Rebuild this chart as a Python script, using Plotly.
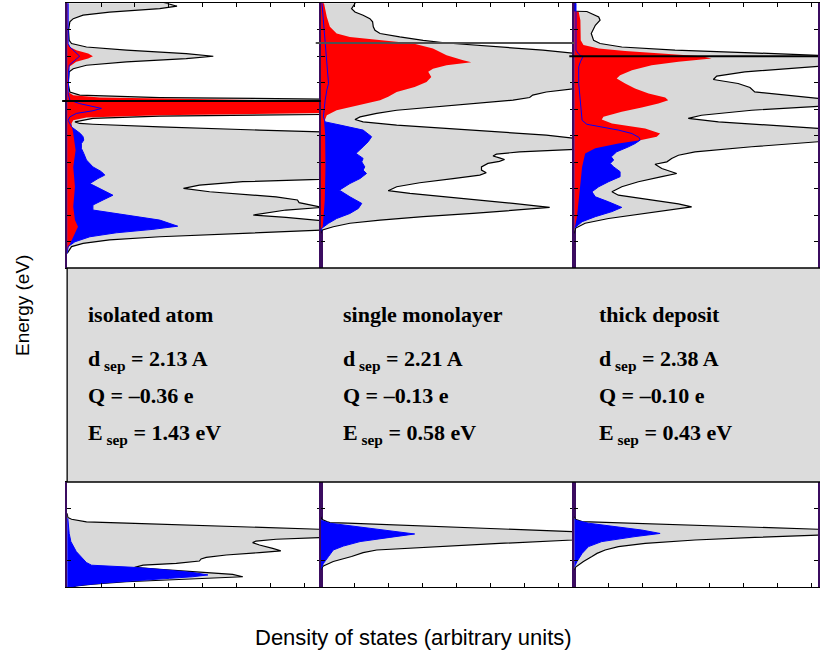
import plotly.graph_objects as go

# ---------------- text / labels ----------------
systems = ["isolated atom", "single monolayer", "thick deposit"]
d_sep = ["2.13 A", "2.21 A", "2.38 A"]
charge = ["–0.36 e", "–0.13 e", "–0.10 e"]
e_sep = ["1.43 eV", "0.58 eV", "0.43 eV"]
fermi_level = [-3.69, -1.50, -2.00]          # eV, one per column
fermi_color = ["black", "#505050", "black"]

top_ticks_E = [-1, -2, -3, -4, -5, -6, -7, -8, -9]
bot_ticks_E = [-17, -19]
dos_ticks = [1, 2, 3, 4, 5, 6, 7]

# ---------------- DOS curves: (energy eV, DOS arb. units) ----------------
# isolated atom, valence window
atom_tot = [(0.11, 2.63), (-0.11, 3.24), (-0.20, 2.73), (-0.33, 1.25), (-0.45, 0.47), (-0.58, 0.18),
            (-0.70, 0.08), (-1.02, 0.04), (-1.40, 0.06), (-1.52, 0.13), (-1.65, 0.57), (-1.77, 1.75),
            (-1.90, 3.51), (-2.00, 4.31), (-2.09, 3.51), (-2.21, 1.75), (-2.34, 0.57), (-2.47, 0.18),
            (-2.59, 0.06), (-3.03, 0.03), (-3.35, 0.08), (-3.47, 0.37), (-3.56, 2.73), (-3.62, 7.63),
            (-3.79, 12.0), (-3.91, 14.0), (-4.10, 11.0), (-4.20, 7.63), (-4.26, 2.73), (-4.35, 0.76),
            (-4.48, 0.23), (-4.54, 0.37), (-4.57, 0.76), (-4.67, 2.73), (-4.79, 5.67), (-4.86, 7.53),
            (-5.04, 9.0), (-6.18, 9.5), (-6.55, 8.5), (-6.65, 7.43), (-6.74, 5.18), (-6.87, 3.90),
            (-6.99, 3.43), (-7.12, 4.20), (-7.31, 6.16), (-7.43, 6.79), (-7.53, 6.84), (-7.62, 7.24),
            (-7.71, 7.53), (-7.81, 6.45), (-8.00, 5.49), (-8.09, 6.45), (-8.21, 7.53), (-8.38, 9.0),
            (-8.57, 7.53), (-8.69, 5.18), (-8.82, 2.73), (-8.94, 1.25), (-9.07, 0.47), (-9.19, 0.13),
            (-9.45, 0.0)]
atom_red = [(0.11, 0.01), (-1.52, 0.02), (-1.65, 0.08), (-1.77, 0.27), (-1.90, 0.62), (-2.00, 0.76),
            (-2.09, 0.62), (-2.21, 0.27), (-2.40, 0.06), (-2.59, 0.02), (-3.35, 0.03), (-3.47, 0.18),
            (-3.56, 0.96), (-3.62, 4.69), (-3.69, 7.63), (-3.91, 13.5), (-4.14, 7.63), (-4.23, 2.73),
            (-4.31, 0.57), (-4.42, 0.18), (-4.54, 0.13), (-4.92, 0.18), (-5.55, 0.25), (-6.18, 0.18),
            (-6.93, 0.23), (-7.69, 0.18), (-8.19, 0.23), (-8.44, 0.32), (-8.69, 0.23), (-9.01, 0.13),
            (-9.26, 0.02), (-9.45, 0.0)]
atom_blue = [(0.11, 0.03), (-1.52, 0.03), (-1.65, 0.08), (-1.84, 0.23), (-2.00, 0.37), (-2.15, 0.23),
             (-2.34, 0.06), (-3.41, 0.03), (-3.66, 0.08), (-3.79, 0.37), (-3.89, 0.76), (-3.97, 1.01),
             (-4.06, 0.76), (-4.16, 0.27), (-4.29, 0.08), (-4.42, 0.03), (-4.67, 0.13), (-4.79, 0.27),
             (-4.92, 0.39), (-5.04, 0.47), (-5.17, 0.49), (-5.30, 0.42), (-5.48, 0.42), (-5.67, 0.49),
             (-5.92, 0.57), (-6.18, 0.76), (-6.36, 1.01), (-6.49, 1.11), (-6.62, 0.91), (-6.81, 0.67),
             (-6.99, 0.96), (-7.25, 1.35), (-7.43, 1.06), (-7.62, 0.76), (-7.81, 0.76), (-8.00, 1.75),
             (-8.19, 2.73), (-8.42, 3.26), (-8.54, 2.53), (-8.67, 1.45), (-8.82, 0.67), (-9.01, 0.23),
             (-9.19, 0.03), (-9.45, 0.0)]

# single monolayer, valence window
mono_tot = [(0.11, 1.04), (-0.01, 1.01), (-0.20, 0.91), (-0.33, 1.01), (-0.45, 1.25), (-0.58, 1.45),
            (-0.70, 1.53), (-0.89, 1.55), (-1.02, 1.60), (-1.14, 1.75), (-1.27, 2.33), (-1.40, 3.02),
            (-1.50, 3.71), (-1.65, 5.37), (-1.77, 6.55), (-1.90, 7.53), (-2.40, 9.5), (-3.22, 7.53),
            (-3.35, 6.65), (-3.47, 6.25), (-3.56, 6.16), (-3.66, 5.67), (-3.79, 4.49), (-3.91, 3.22),
            (-4.04, 2.24), (-4.16, 1.65), (-4.29, 1.16), (-4.39, 1.01), (-4.48, 1.25), (-4.60, 2.24),
            (-4.73, 3.71), (-4.86, 5.27), (-4.98, 6.65), (-5.11, 7.53), (-5.36, 9.0), (-5.52, 7.53),
            (-5.61, 5.86), (-5.70, 5.18), (-5.77, 5.08), (-5.84, 5.27), (-5.90, 5.42), (-5.97, 5.27),
            (-6.05, 4.93), (-6.18, 4.74), (-6.30, 4.74), (-6.40, 4.88), (-6.49, 4.69), (-6.62, 3.90),
            (-6.78, 2.92), (-6.93, 2.24), (-7.08, 1.99), (-7.18, 2.63), (-7.31, 3.71), (-7.43, 4.69),
            (-7.56, 5.67), (-7.71, 6.75), (-7.81, 5.86), (-7.94, 4.49), (-8.06, 3.02), (-8.19, 1.75),
            (-8.31, 0.86), (-8.44, 0.37), (-8.57, 0.03), (-8.69, 0.0)]
mono_red = [(0.11, 0.08), (-0.52, 0.18), (-0.89, 0.27), (-1.14, 0.47), (-1.27, 0.86), (-1.40, 1.75),
            (-1.52, 2.73), (-1.71, 3.31), (-1.96, 3.71), (-2.15, 4.20), (-2.23, 4.44), (-2.34, 3.71),
            (-2.47, 3.31), (-2.59, 3.17), (-2.78, 3.26), (-2.97, 3.12), (-3.16, 2.77), (-3.35, 2.24),
            (-3.53, 1.99), (-3.66, 1.75), (-3.85, 1.06), (-4.04, 0.47), (-4.23, 0.18), (-4.48, 0.10),
            (-4.92, 0.13), (-6.18, 0.14), (-7.43, 0.12), (-8.44, 0.06), (-8.59, 0.0)]
mono_blue = [(0.11, 0.03), (-1.14, 0.11), (-1.77, 0.16), (-2.40, 0.18), (-3.03, 0.23), (-3.28, 0.18),
             (-3.66, 0.13), (-4.29, 0.08), (-4.48, 0.13), (-4.60, 0.57), (-4.79, 1.25), (-5.04, 1.50),
             (-5.23, 1.40), (-5.42, 1.25), (-5.67, 1.04), (-5.86, 1.25), (-5.99, 1.21), (-6.18, 1.30),
             (-6.30, 1.25), (-6.43, 1.35), (-6.62, 1.16), (-6.81, 0.86), (-7.06, 0.55), (-7.31, 0.86),
             (-7.56, 1.21), (-7.75, 1.11), (-7.94, 0.86), (-8.13, 0.47), (-8.31, 0.23), (-8.50, 0.03),
             (-8.63, 0.0)]

# thick deposit, valence window
bulk_tot = [(-0.30, 0.0), (-0.31, 0.37), (-0.52, 0.72), (-0.64, 0.76), (-0.83, 0.62), (-1.14, 0.50),
            (-1.40, 0.57), (-1.52, 0.76), (-1.65, 1.40), (-1.77, 2.97), (-1.87, 5.23), (-1.94, 7.19),
            (-2.09, 9.6), (-2.34, 7.68), (-2.47, 6.21), (-2.59, 5.03), (-2.75, 4.20), (-2.88, 4.10),
            (-3.03, 4.83), (-3.18, 5.18), (-3.35, 5.32), (-3.47, 6.21), (-3.60, 7.28), (-3.72, 8.2),
            (-3.89, 7.19), (-4.04, 5.23), (-4.23, 3.75), (-4.35, 3.36), (-4.48, 4.25), (-4.60, 5.91),
            (-4.73, 7.28), (-4.98, 8.66), (-5.23, 7.19), (-5.42, 5.23), (-5.61, 3.56), (-5.74, 3.07),
            (-5.86, 2.87), (-5.99, 2.73), (-6.08, 2.38), (-6.24, 2.58), (-6.43, 3.02), (-6.55, 2.58),
            (-6.74, 1.89), (-6.93, 1.40), (-7.12, 1.11), (-7.25, 1.30), (-7.43, 2.28), (-7.58, 3.07),
            (-7.69, 3.46), (-7.81, 2.77), (-7.94, 2.09), (-8.13, 1.01), (-8.31, 0.32), (-8.50, 0.03),
            (-8.69, 0.0)]
bulk_red = [(-0.30, 0.0), (-0.33, 0.13), (-0.64, 0.18), (-1.40, 0.19), (-1.58, 0.27), (-1.71, 0.72),
            (-1.80, 1.50), (-1.90, 2.77), (-2.00, 3.75), (-2.09, 4.05), (-2.21, 3.07), (-2.34, 2.28),
            (-2.53, 1.70), (-2.72, 1.35), (-2.84, 1.25), (-3.03, 1.50), (-3.22, 1.79), (-3.41, 2.19),
            (-3.56, 2.68), (-3.66, 2.77), (-3.79, 2.48), (-3.94, 1.99), (-4.10, 1.40), (-4.29, 0.86),
            (-4.39, 0.81), (-4.54, 1.11), (-4.73, 2.09), (-4.92, 2.53), (-5.04, 2.43), (-5.17, 1.94),
            (-5.30, 1.30), (-5.48, 0.62), (-5.67, 0.32), (-6.18, 0.23), (-6.81, 0.18), (-7.43, 0.13),
            (-8.06, 0.08), (-8.57, 0.0)]
bulk_blue = [(0.11, 0.05), (-0.39, 0.05), (-1.77, 0.05), (-1.92, 0.13), (-2.03, 0.25), (-2.21, 0.18),
             (-2.40, 0.13), (-3.03, 0.13), (-3.66, 0.18), (-4.04, 0.21), (-4.42, 0.23), (-4.57, 0.37),
             (-4.67, 0.81), (-4.79, 1.30), (-4.92, 1.70), (-5.07, 1.91), (-5.17, 1.94), (-5.30, 1.79),
             (-5.42, 1.60), (-5.61, 1.25), (-5.80, 1.09), (-5.92, 1.16), (-6.05, 1.06), (-6.18, 1.16),
             (-6.36, 1.35), (-6.55, 1.35), (-6.74, 1.01), (-6.93, 0.72), (-7.12, 0.52), (-7.31, 0.62),
             (-7.50, 1.01), (-7.71, 1.40), (-7.87, 1.11), (-8.06, 0.62), (-8.25, 0.23), (-8.50, 0.0)]

# semicore window
atom_tot_low = [(-17.19, 0.0), (-17.35, 0.02), (-17.42, 0.13), (-17.52, 0.57), (-17.57, 1.75),
                (-17.65, 3.51), (-17.73, 5.27), (-17.80, 7.43), (-17.96, 9.6), (-18.12, 7.43),
                (-18.18, 6.16), (-18.25, 5.57), (-18.31, 5.47), (-18.40, 5.67), (-18.53, 6.06),
                (-18.62, 6.30), (-18.69, 5.67), (-18.78, 4.69), (-18.87, 4.10), (-18.93, 3.95),
                (-19.01, 3.90), (-19.10, 3.22), (-19.17, 2.24), (-19.25, 1.99), (-19.33, 2.73),
                (-19.42, 3.90), (-19.52, 4.88), (-19.61, 5.18), (-19.67, 4.20), (-19.73, 2.92),
                (-19.80, 1.75), (-19.89, 0.76), (-19.96, 0.27), (-20.05, 0.03)]
atom_blue_low = [(-17.38, 0.02), (-17.57, 0.03), (-17.96, 0.06), (-18.27, 0.11), (-18.46, 0.18),
                 (-18.65, 0.27), (-18.82, 0.39), (-18.95, 0.49), (-19.07, 0.57), (-19.17, 0.72),
                 (-19.25, 1.94), (-19.35, 2.92), (-19.45, 3.71), (-19.54, 4.15), (-19.61, 3.70),
                 (-19.67, 3.02), (-19.73, 2.24), (-19.83, 1.25), (-19.92, 0.47), (-20.01, 0.0)]
mono_tot_low = [(-17.32, 0.0), (-17.42, 0.03), (-17.51, 0.18), (-17.55, 0.27), (-17.57, 0.80),
                (-17.64, 2.14), (-17.70, 3.46), (-17.77, 4.78), (-17.83, 6.11), (-17.89, 7.43),
                (-18.04, 8.8), (-18.21, 7.43), (-18.34, 5.27), (-18.46, 3.31), (-18.59, 1.65),
                (-18.69, 1.25), (-18.84, 0.91), (-19.03, 0.37), (-19.20, 0.08), (-19.33, 0.0)]
mono_blue_low = [(-17.42, 0.0), (-17.47, 0.03), (-17.57, 0.27), (-17.70, 1.06), (-17.83, 1.94),
                 (-17.98, 2.77), (-18.11, 2.04), (-18.27, 1.16), (-18.44, 0.67), (-18.59, 0.37),
                 (-18.84, 0.23), (-19.10, 0.08), (-19.33, 0.0)]
bulk_tot_low = [(-17.32, 0.0), (-17.42, 0.03), (-17.51, 0.23), (-17.57, 1.75), (-17.64, 3.26),
                (-17.70, 4.74), (-17.77, 6.31), (-17.80, 7.19), (-17.91, 8.7), (-18.02, 7.19),
                (-18.11, 5.32), (-18.21, 3.56), (-18.34, 2.09), (-18.46, 1.30), (-18.59, 0.91),
                (-18.72, 0.67), (-18.84, 0.52), (-19.03, 0.27), (-19.25, 0.03), (-19.35, 0.0)]
bulk_blue_low = [(-17.42, 0.0), (-17.47, 0.08), (-17.57, 0.42), (-17.70, 1.30), (-17.83, 1.99),
                 (-17.96, 2.53), (-18.08, 1.79), (-18.27, 0.81), (-18.46, 0.42), (-18.72, 0.23),
                 (-19.03, 0.08), (-19.25, 0.0)]

top_curves = [(atom_tot, atom_red, atom_blue), (mono_tot, mono_red, mono_blue), (bulk_tot, bulk_red, bulk_blue)]
low_curves = [(atom_tot_low, None, atom_blue_low), (mono_tot_low, None, mono_blue_low),
              (bulk_tot_low, None, bulk_blue_low)]

# ---------------- layout geometry ----------------
W, H = 820, 657
left_px = [67.3, 321.5, 575.7]
right_px = [321.5, 575.7, 820.0]
px_per_dos = 34.0
top_dom = [1 - 268 / H, 1 - 3.3 / H]
bot_dom = [1 - 587 / H, 1 - 482 / H]
top_range = [-10, 0]
bot_range = [-20, -16]
AXIS_PURPLE = "#3b0c60"
GRAY = "#d9d9d9"

fig = go.Figure()


def ax_name(i, kind):
    return kind if i == 1 else f"{kind}{i}"


def add_curves(i, tot, red, blue):
    xa, ya = ax_name(i, "x"), ax_name(i, "y")
    E, D = zip(*tot)
    fig.add_trace(go.Scatter(x=D, y=E, xaxis=xa, yaxis=ya, mode="lines", fill="tozerox",
                             fillcolor=GRAY, line=dict(color="black", width=1.2),
                             hoverinfo="skip", showlegend=False))
    if blue:
        Eb, Db = zip(*blue)
        fig.add_trace(go.Scatter(x=Db, y=Eb, xaxis=xa, yaxis=ya, mode="lines", fill="tozerox",
                                 fillcolor="#0000ff", line=dict(color="#0000ff", width=0),
                                 hoverinfo="skip", showlegend=False))
    if red:
        Er, Dr = zip(*red)
        fig.add_trace(go.Scatter(x=Dr, y=Er, xaxis=xa, yaxis=ya, mode="lines", fill="tozerox",
                                 fillcolor="#ff0000", line=dict(color="#ff0000", width=0),
                                 hoverinfo="skip", showlegend=False))
    if blue:
        fig.add_trace(go.Scatter(x=Db, y=Eb, xaxis=xa, yaxis=ya, mode="lines",
                                 line=dict(color="#0000ff", width=1),
                                 hoverinfo="skip", showlegend=False))


layout_axes = {}
for c in range(3):
    dom = [left_px[c] / W, right_px[c] / W]
    xr = [0, (right_px[c] - left_px[c]) / px_per_dos]
    for row, (ydom, yr, yt, side, curves) in enumerate(
            [(top_dom, top_range, top_ticks_E, "top", top_curves),
             (bot_dom, bot_range, bot_ticks_E, "bottom", low_curves)]):
        i = c + 1 + 3 * row
        tot, red, blue = curves[c]
        add_curves(i, tot, red, blue)
        layout_axes["xaxis" if i == 1 else f"xaxis{i}"] = dict(
            domain=dom, range=xr, anchor=ax_name(i, "y"), side=side,
            showline=True, linecolor="black", linewidth=1, mirror=True,
            ticks="inside", ticklen=4, tickcolor="black", tickwidth=1,
            tickvals=dos_ticks, showticklabels=False, showgrid=False, zeroline=False, fixedrange=True)
        layout_axes["yaxis" if i == 1 else f"yaxis{i}"] = dict(
            domain=ydom, range=yr, anchor=ax_name(i, "x"),
            showline=True, linecolor=AXIS_PURPLE, linewidth=2, mirror="ticks",
            ticks="inside", ticklen=4, tickcolor="black", tickwidth=1,
            tickvals=yt, showticklabels=False, showgrid=False, zeroline=False, fixedrange=True)

shapes = []
# Fermi levels
for c in range(3):
    shapes.append(dict(type="line", xref="paper", yref=ax_name(c + 1, "y"),
                       x0=(left_px[c] - 5) / W, x1=right_px[c] / W,
                       y0=fermi_level[c], y1=fermi_level[c],
                       line=dict(color=fermi_color[c], width=2), layer="above"))
# grey information box
shapes.append(dict(type="rect", xref="paper", yref="paper",
                   x0=left_px[0] / W, x1=1.02, y0=1 - 482 / H, y1=1 - 268 / H,
                   fillcolor="#dcdcdc", line=dict(color="black", width=1.3), layer="above"))

annotations = []
serif = dict(family="Liberation Serif, Times New Roman, serif", size=22, color="black", weight="bold")
col_x = [86, 342, 598]
row_y = [314, 360, 395, 434]
for c in range(3):
    lines = [systems[c],
             "d<sub> sep</sub> = " + d_sep[c],
             "Q = " + charge[c],
             "E<sub> sep</sub> = " + e_sep[c]]
    for txt, yy in zip(lines, row_y):
        annotations.append(dict(text=txt, xref="paper", yref="paper",
                                x=col_x[c] / W, y=1 - yy / H, xanchor="left", yanchor="middle",
                                showarrow=False, font=serif))

sans_y = dict(family="Liberation Sans, Arial, sans-serif", size=19, color="black")
sans_x = dict(family="Liberation Sans, Arial, sans-serif", size=22, color="black")
annotations.append(dict(text="Energy (eV)", xref="paper", yref="paper", x=22 / W, y=1 - 305 / H,
                        textangle=-90, showarrow=False, font=sans_y, xanchor="center", yanchor="middle"))
annotations.append(dict(text="Density of states (arbitrary units)", xref="paper", yref="paper",
                        x=415 / W, y=1 - 637 / H, showarrow=False, font=sans_x,
                        xanchor="center", yanchor="middle"))

fig.update_layout(width=W, height=H, margin=dict(l=0, r=0, t=0, b=0),
                  paper_bgcolor="white", plot_bgcolor="white",
                  shapes=shapes, annotations=annotations, **layout_axes)

fig.write_html("out.html")
